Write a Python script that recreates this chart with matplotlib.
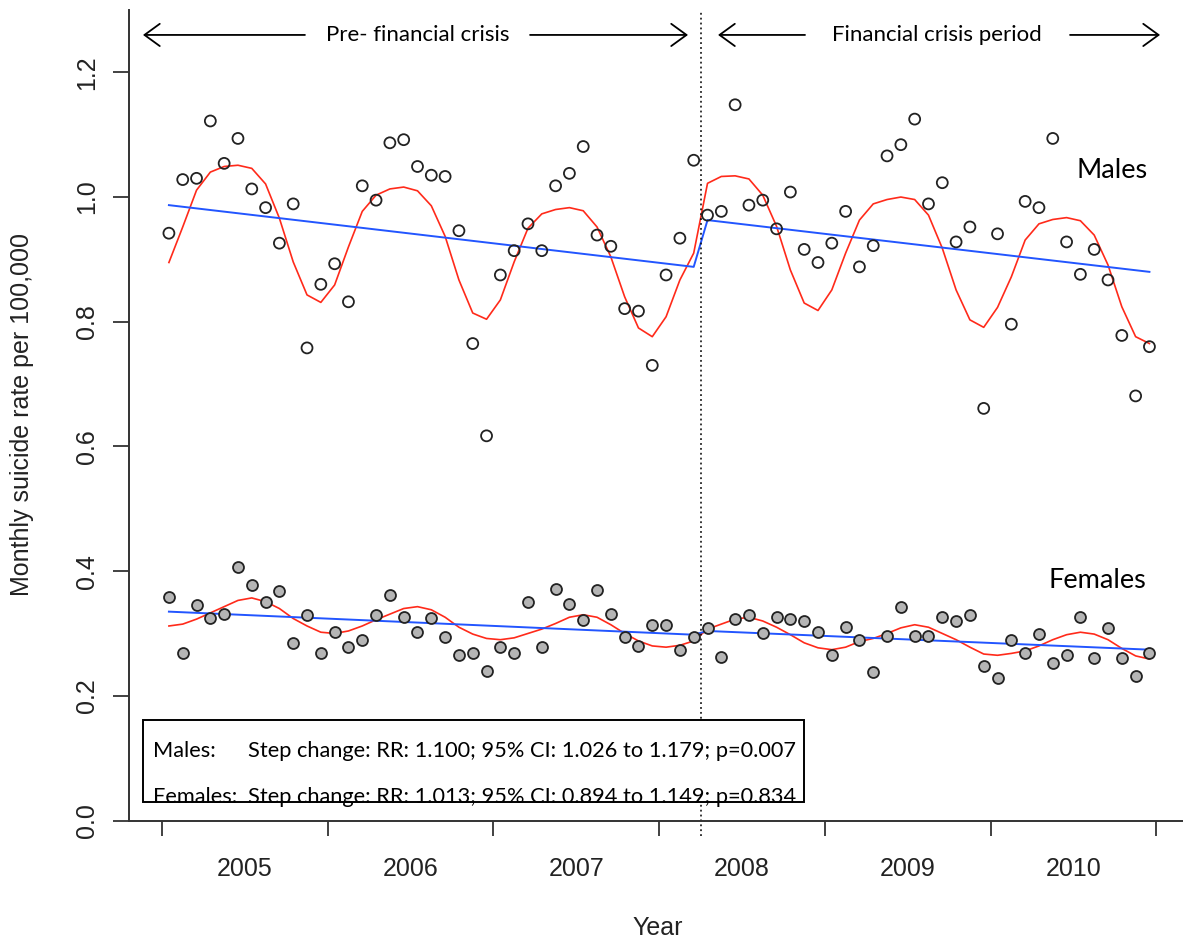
import matplotlib.pyplot as plt
from matplotlib.patches import Rectangle

# month index 1 = Jan 2005 ... 72 = Dec 2010
months = list(range(1, 73))

males = [0.942, 1.028, 1.030, 1.122, 1.054, 1.094, 1.013, 0.983, 0.926, 0.989, 0.758, 0.860,
		0.893, 0.832, 1.018, 0.995, 1.087, 1.092, 1.049, 1.035, 1.033, 0.946, 0.765, 0.617,
		0.875, 0.914, 0.957, 0.914, 1.018, 1.038, 1.081, 0.939, 0.921, 0.821, 0.817, 0.730,
		0.875, 0.934, 1.059, 0.971, 0.977, 1.148, 0.987, 0.995, 0.949, 1.008, 0.916, 0.895,
		0.926, 0.977, 0.888, 0.922, 1.066, 1.084, 1.125, 0.989, 1.023, 0.928, 0.952, 0.661,
		0.941, 0.796, 0.993, 0.983, 1.094, 0.928, 0.876, 0.916, 0.867, 0.778, 0.681, 0.760]

females = [0.358, 0.269, 0.345, 0.324, 0.332, 0.406, 0.378, 0.350, 0.368, 0.284, 0.330, 0.268,
		0.302, 0.278, 0.290, 0.330, 0.361, 0.327, 0.302, 0.324, 0.294, 0.265, 0.268, 0.240,
		0.278, 0.269, 0.350, 0.279, 0.372, 0.348, 0.322, 0.370, 0.332, 0.294, 0.280, 0.314,
		0.314, 0.273, 0.294, 0.309, 0.263, 0.323, 0.330, 0.301, 0.327, 0.323, 0.320, 0.302,
		0.265, 0.311, 0.290, 0.238, 0.296, 0.342, 0.296, 0.296, 0.327, 0.320, 0.330, 0.248,
		0.229, 0.290, 0.268, 0.299, 0.253, 0.266, 0.327, 0.261, 0.309, 0.261, 0.231, 0.268]

males_fit = [0.895, 0.952, 1.011, 1.040, 1.049, 1.051, 1.046, 1.021, 0.966, 0.896, 0.843, 0.831,
		0.859, 0.920, 0.977, 1.003, 1.013, 1.016, 1.010, 0.986, 0.937, 0.867, 0.814, 0.804,
		0.835, 0.896, 0.950, 0.973, 0.980, 0.983, 0.978, 0.952, 0.904, 0.840, 0.790, 0.776,
		0.808, 0.867, 0.910, 1.022, 1.033, 1.034, 1.029, 1.003, 0.953, 0.883, 0.830, 0.818,
		0.851, 0.910, 0.963, 0.989, 0.996, 1.000, 0.996, 0.971, 0.918, 0.851, 0.803, 0.791,
		0.823, 0.872, 0.931, 0.957, 0.964, 0.967, 0.962, 0.939, 0.891, 0.824, 0.776, 0.765]

females_fit = [0.312, 0.315, 0.323, 0.333, 0.343, 0.353, 0.357, 0.351, 0.340, 0.324, 0.312, 0.302,
		0.300, 0.304, 0.312, 0.322, 0.331, 0.340, 0.343, 0.338, 0.326, 0.310, 0.299, 0.292,
		0.290, 0.293, 0.300, 0.307, 0.316, 0.326, 0.330, 0.326, 0.314, 0.300, 0.288, 0.280,
		0.278, 0.281, 0.288, 0.307, 0.315, 0.323, 0.326, 0.320, 0.310, 0.298, 0.285, 0.277,
		0.274, 0.278, 0.287, 0.292, 0.300, 0.309, 0.314, 0.310, 0.300, 0.290, 0.278, 0.267,
		0.265, 0.268, 0.272, 0.280, 0.290, 0.298, 0.302, 0.299, 0.290, 0.276, 0.264, 0.259]

# linear trend with the step at the crisis
trend_months = [1, 39, 40, 72]
males_trend = [0.987, 0.888, 0.963, 0.880]
females_trend = [0.335, 0.298, 0.304, 0.274]

crisis_start = 39.5
years = ["2005", "2006", "2007", "2008", "2009", "2010"]
year_edges = [0.5, 12.5, 24.5, 36.5, 48.5, 60.5, 72.5]
year_mids = [6.5, 18.5, 30.5, 42.5, 54.5, 66.5]
yticks = [0.0, 0.2, 0.4, 0.6, 0.8, 1.0, 1.2]

box_rows = [
	("Males:", "Step change: RR: 1.100; 95% CI: 1.026 to 1.179; p=0.007"),
	("Females:", "Step change: RR: 1.013; 95% CI: 0.894 to 1.149; p=0.834"),
]


def main():
	fig = plt.figure(figsize=(11.83, 9.44), dpi=100)
	ax = fig.add_axes([129 / 1183, 123.5 / 944, 1054 / 1183, 810.5 / 944])
	ax.set_xlim(-1.89, 74.43)
	ax.set_ylim(0, 1.30)

	for s in ["top", "right"]:
		ax.spines[s].set_visible(False)
	for s in ["left", "bottom"]:
		ax.spines[s].set_linewidth(1.4)
		ax.spines[s].set_color("#333333")

	ax.plot(months, males_fit, color="#ff2a1a", lw=1.2)
	ax.plot(trend_months, males_trend, color="#2255ff", lw=1.4)
	ax.plot(months, females_fit, color="#ff2a1a", lw=1.2)
	ax.plot(trend_months, females_trend, color="#2255ff", lw=1.4)

	ax.scatter(months, males, s=62, facecolors="none", edgecolors="#222222", linewidths=1.3, zorder=3)
	ax.scatter(months, females, s=62, facecolors="#b5b5b5", edgecolors="#222222", linewidths=1.3, zorder=3)

	ax.plot([crisis_start, crisis_start], [-0.025, 1.30], color="black", lw=1.1,
			ls=(0, (1.2, 2)), clip_on=False)

	# ticks: year boundaries, labels centred in each year
	ax.set_xticks(year_edges)
	ax.set_xticklabels([])
	ax.set_xticks(year_mids, minor=True)
	ax.set_xticklabels(years, minor=True, fontsize=18, family="Liberation Sans", color="#222222")
	ax.tick_params(axis="x", which="major", length=10.8, width=1.3, color="#333333")
	ax.tick_params(axis="x", which="minor", length=0, pad=26)

	ax.set_yticks(yticks)
	ax.set_yticklabels(["%.1f" % v for v in yticks], rotation=90, va="center",
			fontsize=18, family="Liberation Sans", color="#222222")
	ax.tick_params(axis="y", length=11.5, width=1.3, color="#333333", pad=10)

	fig.text(22 / 1183, (944 - 415) / 944, "Monthly suicide rate per 100,000", rotation=90,
			ha="center", va="center", fontsize=18, family="Liberation Sans", color="#222222")
	fig.text(658 / 1183, (944 - 928) / 944, "Year", ha="center", va="center",
			fontsize=18, family="Liberation Sans", color="#222222")

	# period arrows at the top
	arrow = dict(arrowstyle="->,head_length=0.55,head_width=0.4", lw=1.3, color="black",
			shrinkA=0, shrinkB=0, mutation_scale=20)
	for tail, head in [(10.85, -0.88), (27.15, 38.59), (47.06, 40.76), (66.25, 72.77)]:
		ax.annotate("", xy=(head, 1.26), xytext=(tail, 1.26), arrowprops=arrow)
	ax.text(19.04, 1.26, "Pre- financial crisis", ha="center", va="center", family="Lato", fontsize=16)
	ax.text(56.6, 1.26, "Financial crisis period", ha="center", va="center", family="Lato", fontsize=16)

	ax.text(71.9, 1.031, "Males", ha="right", va="baseline", family="Lato", fontsize=19.5)
	ax.text(71.8, 0.373, "Females", ha="right", va="baseline", family="Lato", fontsize=19.5)

	box = Rectangle((0.0133, 0.0228), 0.6271, 0.1012, transform=ax.transAxes,
			facecolor="white", edgecolor="black", lw=1.4, zorder=5)
	ax.add_patch(box)
	for (label, txt), yb in zip(box_rows, [0.0780, 0.0218]):
		t1 = ax.text(0.0228, yb, label, transform=ax.transAxes, va="baseline",
				family="Lato", fontsize=15.7, zorder=6)
		t2 = ax.text(0.1129, yb, txt, transform=ax.transAxes, va="baseline",
				family="Lato", fontsize=15.7, zorder=6)
		t1.set_clip_path(box)
		t2.set_clip_path(box)

	fig.savefig("out.png", dpi=100)


if __name__ == '__main__':
	main()
